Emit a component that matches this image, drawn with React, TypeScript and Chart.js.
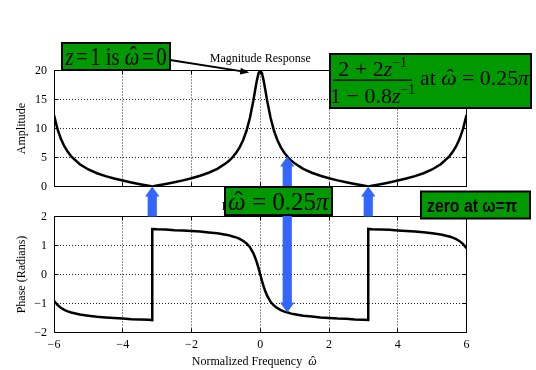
import { useEffect, useRef } from "react";
import { Chart, registerables } from "chart.js";

Chart.register(...registerables);

const WIDTH = 536;
const HEIGHT = 370;

// Normalized frequency samples (rad); ±π is listed twice so the phase wrap draws as a vertical step.
const omega = [
  -6, -5.9, -5.8, -5.7, -5.6, -5.5, -5.25, -5, -4.75, -4.5, -4.25, -4, -3.75, -3.5, -3.25, -3.1416, -3.1416,
  -3, -2.75, -2.5, -2.25, -2, -1.75, -1.5, -1.25, -1, -0.9, -0.8, -0.7, -0.6, -0.5, -0.4, -0.3, -0.2, -0.15, -0.1, -0.05,
  0,
  0.05, 0.1, 0.15, 0.2, 0.3, 0.4, 0.5, 0.6, 0.7, 0.8, 0.9, 1, 1.25, 1.5, 1.75, 2, 2.25, 2.5, 2.75, 3,
  3.1416, 3.1416, 3.25, 3.5, 3.75, 4, 4.25, 4.5, 4.75, 5, 5.25, 5.5, 5.6, 5.7, 5.8, 5.9, 6,
];

const amplitude = [
  12.3, 9.94, 8.22, 6.94, 5.97, 5.2, 3.84, 2.94, 2.29, 1.79, 1.37, 1.02, 0.7, 0.4, 0.12, 0, 0,
  0.16, 0.44, 0.74, 1.06, 1.42, 1.85, 2.37, 3.04, 3.99, 4.48, 5.08, 5.82, 6.76, 7.98, 9.61, 11.85, 14.84, 16.57, 18.24, 19.51,
  20,
  19.51, 18.24, 16.57, 14.84, 11.85, 9.61, 7.98, 6.76, 5.82, 5.08, 4.48, 3.99, 3.04, 2.37, 1.85, 1.42, 1.06, 0.74, 0.44, 0.16,
  0, 0, 0.12, 0.4, 0.7, 1.02, 1.37, 1.79, 2.29, 2.94, 3.84, 5.2, 5.97, 6.94, 8.22, 9.94, 12.3,
];

const phaseRad = [
  -0.91, -1.05, -1.15, -1.22, -1.27, -1.31, -1.38, -1.42, -1.46, -1.48, -1.5, -1.52, -1.54, -1.55, -1.56, -1.57, 1.57,
  1.56, 1.55, 1.53, 1.52, 1.5, 1.48, 1.45, 1.42, 1.37, 1.35, 1.31, 1.28, 1.23, 1.16, 1.07, 0.94, 0.73, 0.59, 0.42, 0.22,
  0,
  -0.22, -0.42, -0.59, -0.73, -0.94, -1.07, -1.16, -1.23, -1.28, -1.31, -1.35, -1.37, -1.42, -1.45, -1.48, -1.5, -1.52, -1.53, -1.55, -1.56,
  -1.57, 1.57, 1.56, 1.55, 1.54, 1.52, 1.5, 1.48, 1.46, 1.42, 1.38, 1.31, 1.27, 1.22, 1.15, 1.05, 0.91,
];

const freqTicks = [-6, -4, -2, 0, 2, 4, 6];
const amplitudeTicks = [0, 5, 10, 15, 20];
const phaseTicks = [-2, -1, 0, 1, 2];

// Evaluation point called out on both panels, and the zero of the numerator.
const evalOmega = 0.25 * Math.PI;
const evalAmplitude = 5.18;
const evalPhase = -1.31;
const zeroOmega = Math.PI;

const SERIF = '"Liberation Serif", "Times New Roman", serif';
const SANS = '"Liberation Sans", Arial, sans-serif';
const BOX_GREEN = "#009900";
const ARROW_BLUE = "#3366ff";

const fmt = (v: number) => String(v).replace("-", "\u2212");

const align = (p: number) => Math.round(p - 0.5) + 0.5;

// Solid box around the plot area with short inward tick marks on every side.
const framePlugin = {
  id: "frame",
  afterDatasetsDraw(chart: any) {
    const { ctx, chartArea: a, scales } = chart;
    const l = align(a.left), r = align(a.right), t = align(a.top), b = align(a.bottom);
    ctx.save();
    ctx.setLineDash([]);
    ctx.strokeStyle = "#000";
    ctx.lineWidth = 1;
    ctx.beginPath();
    ctx.rect(l, t, r - l, b - t);
    const tick = 4;
    for (const tk of scales.x.ticks) {
      const x = align(scales.x.getPixelForValue(tk.value));
      ctx.moveTo(x, b); ctx.lineTo(x, b - tick);
      ctx.moveTo(x, t); ctx.lineTo(x, t + tick);
    }
    for (const tk of scales.y.ticks) {
      const y = align(scales.y.getPixelForValue(tk.value));
      ctx.moveTo(l, y); ctx.lineTo(l + tick, y);
      ctx.moveTo(r, y); ctx.lineTo(r - tick, y);
    }
    ctx.stroke();
    ctx.restore();
  },
};

function gridFor(min: number, max: number) {
  return {
    drawTicks: false,
    lineWidth: 1,
    color: (c: any) => (c.tick && (c.tick.value === min || c.tick.value === max) ? "rgba(0,0,0,0)" : "#222"),
  };
}

function buildConfig(values: number[], yTicks: number[], area: { top: number; bottom: number }, showXLabels: boolean) {
  const yMin = yTicks[0];
  const yMax = yTicks[yTicks.length - 1];
  const xAxisHeight = showXLabels ? 20 : 0;
  return {
    type: "line" as const,
    data: {
      datasets: [
        {
          data: omega.map((w, i) => ({ x: w, y: values[i] })),
          borderColor: "#000",
          borderWidth: 2.5,
          pointRadius: 0,
          tension: 0,
          fill: false,
        },
      ],
    },
    options: {
      responsive: false,
      animation: false as const,
      devicePixelRatio: 1,
      events: [],
      layout: {
        padding: { left: 0, right: WIDTH - 466.5, top: area.top, bottom: HEIGHT - area.bottom - xAxisHeight },
      },
      plugins: { legend: { display: false }, tooltip: { enabled: false }, title: { display: false } },
      scales: {
        x: {
          type: "linear" as const,
          min: freqTicks[0],
          max: freqTicks[freqTicks.length - 1],
          afterBuildTicks: (s: any) => { s.ticks = freqTicks.map((v) => ({ value: v })); },
          afterFit: (s: any) => { s.height = xAxisHeight; },
          ticks: {
            display: showXLabels,
            color: "#000",
            padding: 5,
            maxRotation: 0,
            font: { family: SERIF, size: 12 },
            callback: (v: any) => fmt(Number(v)),
          },
          grid: gridFor(freqTicks[0], freqTicks[freqTicks.length - 1]),
          border: { display: false, dash: [1, 2] },
        },
        y: {
          type: "linear" as const,
          min: yMin,
          max: yMax,
          afterBuildTicks: (s: any) => { s.ticks = yTicks.map((v) => ({ value: v })); },
          afterFit: (s: any) => { s.width = 54; },
          ticks: {
            color: "#000",
            padding: 7,
            font: { family: SERIF, size: 12 },
            callback: (v: any) => fmt(Number(v)),
          },
          grid: gridFor(yMin, yMax),
          border: { display: false, dash: [1, 2] },
        },
      },
    },
    plugins: [framePlugin],
  };
}

type Seg = { t: string; italic?: boolean; hat?: boolean; scale?: number; rise?: number; gap?: number };

function segFont(s: Seg, size: number) {
  return `${s.italic ? "italic " : ""}${size * (s.scale ?? 1)}px ${SERIF}`;
}

function richWidth(ctx: CanvasRenderingContext2D, segs: Seg[], size: number) {
  let w = 0;
  for (const s of segs) {
    ctx.font = segFont(s, size);
    w += ctx.measureText(s.t).width + (s.gap ?? 0);
  }
  return w;
}

function drawRich(ctx: CanvasRenderingContext2D, segs: Seg[], x: number, baseline: number, size: number, maxWidth?: number) {
  const natural = richWidth(ctx, segs, size);
  const k = maxWidth && natural > maxWidth ? maxWidth / natural : 1;
  ctx.save();
  ctx.translate(x, baseline);
  ctx.scale(k, 1);
  ctx.fillStyle = "#000";
  ctx.textBaseline = "alphabetic";
  let cx = 0;
  for (const s of segs) {
    cx += s.gap ?? 0;
    ctx.font = segFont(s, size);
    const w = ctx.measureText(s.t).width;
    ctx.textAlign = "left";
    ctx.fillText(s.t, cx, -(s.rise ?? 0));
    if (s.hat) {
      ctx.font = `${size}px ${SERIF}`;
      ctx.textAlign = "center";
      ctx.fillText("\u02C6", cx + w / 2 + size * 0.06, -size * 0.04);
    }
    cx += w;
  }
  ctx.restore();
  return natural * k;
}

function greenBox(ctx: CanvasRenderingContext2D, x: number, y: number, w: number, h: number) {
  ctx.save();
  ctx.fillStyle = BOX_GREEN;
  ctx.fillRect(x, y, w, h);
  ctx.strokeStyle = "#000";
  ctx.lineWidth = 2;
  ctx.strokeRect(x, y, w, h);
  ctx.restore();
}

const SHAFT = 4.6;
const HEAD = 7.2;
const HEAD_LEN = 10;

function arrowUp(ctx: CanvasRenderingContext2D, x: number, tipY: number, tailY: number) {
  ctx.beginPath();
  ctx.moveTo(x, tipY);
  ctx.lineTo(x + HEAD, tipY + HEAD_LEN);
  ctx.lineTo(x + SHAFT, tipY + HEAD_LEN);
  ctx.lineTo(x + SHAFT, tailY);
  ctx.lineTo(x - SHAFT, tailY);
  ctx.lineTo(x - SHAFT, tipY + HEAD_LEN);
  ctx.lineTo(x - HEAD, tipY + HEAD_LEN);
  ctx.closePath();
  ctx.fill();
}

function arrowBoth(ctx: CanvasRenderingContext2D, x: number, topY: number, bottomY: number) {
  ctx.beginPath();
  ctx.moveTo(x, topY);
  ctx.lineTo(x + HEAD, topY + HEAD_LEN);
  ctx.lineTo(x + SHAFT, topY + HEAD_LEN);
  ctx.lineTo(x + SHAFT, bottomY - HEAD_LEN);
  ctx.lineTo(x + HEAD, bottomY - HEAD_LEN);
  ctx.lineTo(x, bottomY);
  ctx.lineTo(x - HEAD, bottomY - HEAD_LEN);
  ctx.lineTo(x - SHAFT, bottomY - HEAD_LEN);
  ctx.lineTo(x - SHAFT, topY + HEAD_LEN);
  ctx.lineTo(x - HEAD, topY + HEAD_LEN);
  ctx.closePath();
  ctx.fill();
}

function drawOverlay(canvas: HTMLCanvasElement, mag: Chart, ph: Chart) {
  const ctx = canvas.getContext("2d")!;
  ctx.clearRect(0, 0, WIDTH, HEIGHT);
  const mx = mag.scales.x, my = mag.scales.y;
  const py = ph.scales.y;
  const magArea = mag.chartArea, phArea = ph.chartArea;
  const midX = (magArea.left + magArea.right) / 2;

  // Panel titles and axis titles
  ctx.fillStyle = "#000";
  ctx.font = `12px ${SERIF}`;
  ctx.textAlign = "center";
  ctx.textBaseline = "alphabetic";
  ctx.fillText("Magnitude Response", midX, magArea.top - 9);
  ctx.fillText("Phase Response", midX, phArea.top - 7);

  const yTitle = (text: string, cy: number) => {
    ctx.save();
    ctx.translate(21.5, cy);
    ctx.rotate(-Math.PI / 2);
    ctx.font = `12px ${SERIF}`;
    ctx.textAlign = "center";
    ctx.textBaseline = "middle";
    ctx.fillText(text, 0, 0);
    ctx.restore();
  };
  yTitle("Amplitude", (magArea.top + magArea.bottom) / 2);
  yTitle("Phase (Radians)", (phArea.top + phArea.bottom) / 2);

  const xTitle: Seg[] = [{ t: "Normalized Frequency" }, { t: "\u03C9", italic: true, hat: true, gap: 6 }];
  const xtW = richWidth(ctx, xTitle, 12);
  drawRich(ctx, xTitle, midX - 6 - xtW / 2, 365, 12);

  // Blue call-out arrows
  ctx.fillStyle = ARROW_BLUE;
  for (const w of [-zeroOmega, zeroOmega]) {
    arrowUp(ctx, mx.getPixelForValue(w), my.getPixelForValue(0), py.getPixelForValue(phaseTicks[phaseTicks.length - 1]));
  }
  arrowBoth(ctx, mx.getPixelForValue(evalOmega), my.getPixelForValue(evalAmplitude), py.getPixelForValue(evalPhase));

  // Pointer from the "z = 1" note to the peak at ω = 0
  const peakX = mx.getPixelForValue(0) - 11;
  const peakY = my.getPixelForValue(20) + 2;
  const startX = 170, startY = 60;
  const ang = Math.atan2(peakY - startY, peakX - startX);
  ctx.save();
  ctx.strokeStyle = "#000";
  ctx.fillStyle = "#000";
  ctx.lineWidth = 1.8;
  ctx.beginPath();
  ctx.moveTo(startX, startY);
  ctx.lineTo(peakX - 7 * Math.cos(ang), peakY - 7 * Math.sin(ang));
  ctx.stroke();
  ctx.beginPath();
  ctx.moveTo(peakX, peakY);
  ctx.lineTo(peakX - 9 * Math.cos(ang) + 3.5 * Math.sin(ang), peakY - 9 * Math.sin(ang) - 3.5 * Math.cos(ang));
  ctx.lineTo(peakX - 9 * Math.cos(ang) - 3.5 * Math.sin(ang), peakY - 9 * Math.sin(ang) + 3.5 * Math.cos(ang));
  ctx.closePath();
  ctx.fill();
  ctx.restore();

  // Note boxes
  greenBox(ctx, 62, 43, 108, 27);
  drawRich(
    ctx,
    [
      { t: "z", italic: true },
      { t: "=", gap: 3 },
      { t: "1", gap: 3 },
      { t: " is " },
      { t: "\u03C9", italic: true, hat: true },
      { t: "=", gap: 3 },
      { t: "0", gap: 3 },
    ],
    65.5, 65, 25, 101
  );

  greenBox(ctx, 330, 54, 201, 54);
  const num: Seg[] = [{ t: "2 + 2" }, { t: "z", italic: true }, { t: "\u22121", scale: 0.62, rise: 9 }];
  const den: Seg[] = [{ t: "1 \u2212 0.8" }, { t: "z", italic: true }, { t: "\u22121", scale: 0.62, rise: 9 }];
  const barL = 333, barR = 412, barC = (barL + barR) / 2;
  drawRich(ctx, num, barC - richWidth(ctx, num, 22) / 2, 75.5, 22);
  drawRich(ctx, den, barC - richWidth(ctx, den, 22) / 2, 103, 22);
  ctx.fillStyle = "#000";
  ctx.fillRect(barL, 79.5, barR - barL, 1.3);
  drawRich(
    ctx,
    [{ t: "at " }, { t: "\u03C9", italic: true, hat: true }, { t: " = 0.25" }, { t: "\u03C0", italic: true }],
    420, 85, 22, 109
  );

  greenBox(ctx, 225, 187, 107, 28);
  drawRich(
    ctx,
    [{ t: "\u03C9", italic: true, hat: true }, { t: " = 0.25" }, { t: "\u03C0", italic: true }],
    228, 210, 25, 101
  );

  greenBox(ctx, 421, 191.5, 109, 27);
  ctx.fillStyle = "#000";
  ctx.font = `bold 18px ${SANS}`;
  ctx.textAlign = "left";
  ctx.textBaseline = "alphabetic";
  ctx.fillText("zero at \u03C9=\u03C0", 427, 211.5, 90);
}

export default function App() {
  const topRef = useRef<HTMLCanvasElement>(null);
  const bottomRef = useRef<HTMLCanvasElement>(null);
  const overlayRef = useRef<HTMLCanvasElement>(null);

  useEffect(() => {
    const mag = new Chart(topRef.current!, buildConfig(amplitude, amplitudeTicks, { top: 70.5, bottom: 186.5 }, false) as any);
    const ph = new Chart(bottomRef.current!, buildConfig(phaseRad, phaseTicks, { top: 216.5, bottom: 332.5 }, true) as any);
    drawOverlay(overlayRef.current!, mag, ph);
    return () => {
      mag.destroy();
      ph.destroy();
    };
  }, []);

  const layer = { position: "absolute" as const, left: 0, top: 0, width: WIDTH, height: HEIGHT };
  return (
    <div style={{ position: "fixed", left: 0, top: 0, width: WIDTH, height: HEIGHT, background: "#fff" }}>
      <canvas ref={topRef} width={WIDTH} height={HEIGHT} style={layer} />
      <canvas ref={bottomRef} width={WIDTH} height={HEIGHT} style={layer} />
      <canvas ref={overlayRef} width={WIDTH} height={HEIGHT} style={{ ...layer, pointerEvents: "none" }} />
    </div>
  );
}
